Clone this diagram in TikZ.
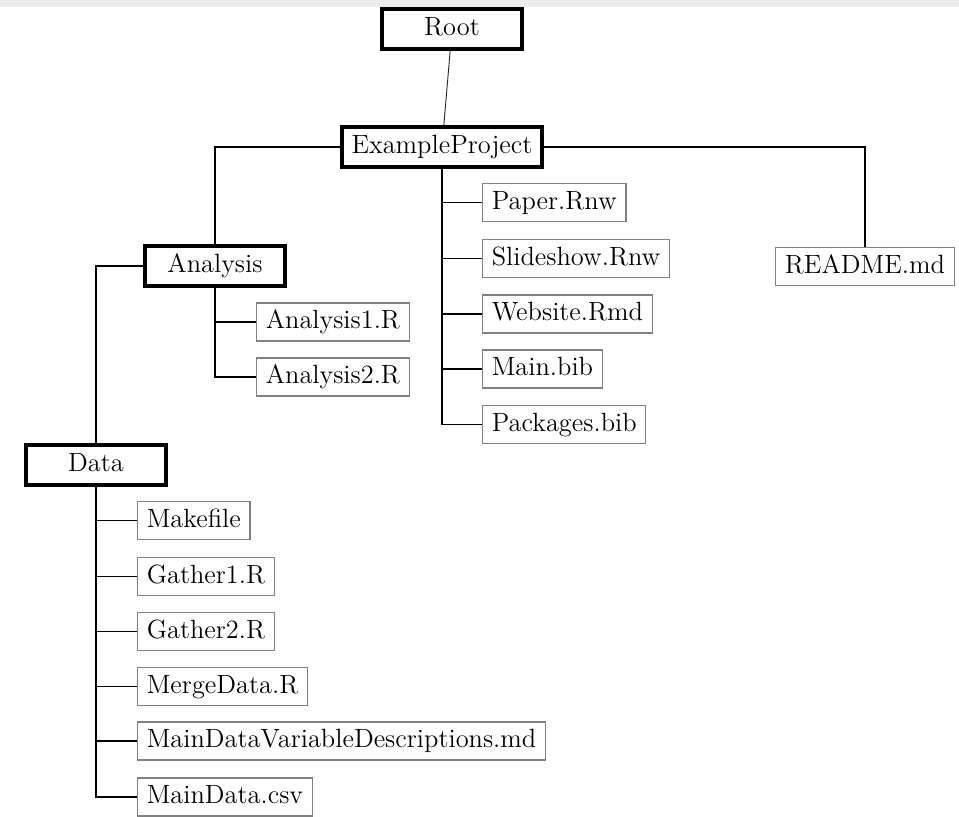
\documentclass[tikz,border=0pt]{standalone}
\usepackage{tikz}
\begin{document}
\begin{tikzpicture}[x=0.5pt,y=-0.5pt,
  every node/.style={font=\fontsize{13.2}{15.5}\selectfont, text height=9.3pt, text depth=2.7pt, inner ysep=3.5pt, inner xsep=4.6pt},
  dirbox/.style={draw=black, line width=2pt, fill=white, minimum width=70pt, inner ysep=4pt},
  filebox/.style={draw=black!50, line width=0.6pt, fill=white, anchor=west},
  tree/.style={draw=black, line width=0.7pt},
  link/.style={draw=black!85, line width=0.45pt}]
  % canvas
  \useasboundingbox (0,0) rectangle (959,816);
  \fill[white] (0,0) rectangle (959,816);
  \fill[black!7] (0,0) rectangle (959,7);

  % folders
  \node[dirbox] (root) at (452,29) {Root};
  \node[dirbox] (proj) at (442,147) {ExampleProject};
  \node[dirbox] (ana) at (215,266) {Analysis};
  \node[dirbox] (data) at (96,465) {Data};

  % project files
  \node[filebox] (paper) at (482,202.5) {Paper.Rnw};
  \node[filebox] (slides) at (482,258.5) {Slideshow.Rnw};
  \node[filebox] (web) at (482,314) {Website.Rmd};
  \node[filebox] (mainbib) at (482,369) {Main.bib};
  \node[filebox] (pkgbib) at (482,424.5) {Packages.bib};
  \node[filebox, anchor=center] (readme) at (865,266.5) {README.md};

  % analysis files
  \node[filebox] (a1) at (256,322) {Analysis1.R};
  \node[filebox] (a2) at (256,377) {Analysis2.R};

  % data files
  \node[filebox] (make) at (137,520.5) {Makefile};
  \node[filebox] (g1) at (137,576.5) {Gather1.R};
  \node[filebox] (g2) at (137,631.5) {Gather2.R};
  \node[filebox] (merge) at (137,686.5) {MergeData.R};
  \node[filebox] (desc) at (137,741) {MainDataVariableDescriptions.md};
  \node[filebox] (csv) at (137,797) {MainData.csv};

  % connectors
  \draw[link] (root) -- (proj);
  \draw[tree] (proj.west) -| (ana.north);
  \draw[tree] (proj.east) -| (readme.north);
  \draw[tree] (ana.west) -| (data.north);
  \foreach \f in {paper,slides,web,mainbib,pkgbib}
    \draw[tree] (proj.south) |- (\f.west);
  \foreach \f in {a1,a2}
    \draw[tree] (ana.south) |- (\f.west);
  \foreach \f in {make,g1,g2,merge,desc,csv}
    \draw[tree] (data.south) |- (\f.west);
\end{tikzpicture}
\end{document}
